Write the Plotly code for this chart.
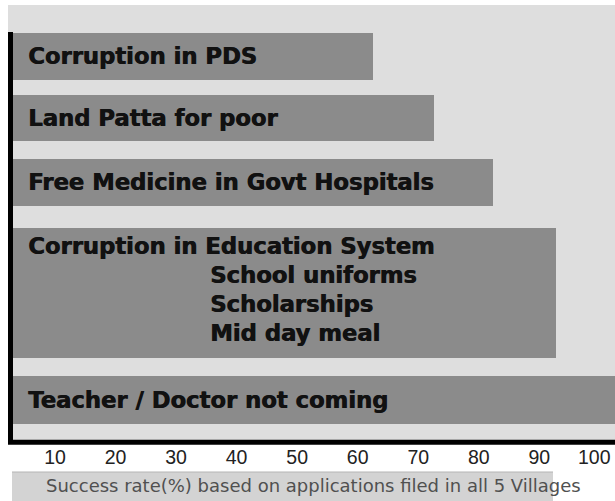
import plotly.graph_objects as go

# ---- data ----
categories = [
    "Corruption in PDS",
    "Land Patta for poor",
    "Free Medicine in Govt Hospitals",
    "Corruption in Education System",
    "Teacher / Doctor not coming",
]
sub_items = ["School uniforms", "Scholarships", "Mid day meal"]
success_rate = [62.5, 72.6, 82.3, 92.7, 105]
tick_vals = [10, 20, 30, 40, 50, 60, 70, 80, 90, 100]
x_title = "Success rate(%) based on applications filed in all 5 Villages"

# ---- layout (row slots, thickness) ----
row_pos = [0, 0.98, 2.0, 3.75, 5.45]
row_thick = [0.75, 0.73, 0.75, 2.06, 0.76]

W, H = 615, 501
BG = "#dedede"
BAR = "#8b8b8b"
PW, PH = 603, 435  # plot area size in px
XR = [2.9, 102.5]

tickfont = dict(family="Liberation Sans", size=19.5, color="#222")
# ticks that fit inside the page go on the axis; the edge one is drawn as text anchored right
axis_ticks = [v for v in tick_vals if v < 100]
edge_ticks = [v for v in tick_vals if v >= 100]

fig = go.Figure()
fig.add_trace(go.Bar(
    x=success_rate, y=row_pos, width=row_thick, orientation="h",
    marker=dict(color=BAR, line=dict(width=0)), hoverinfo="skip",
))

bold = dict(family="DejaVu Sans", size=22.7, color="#111", shadow="0.7px 0 0 #111")
ann = []
for c, p in zip(categories, row_pos):
    ypos = p if c != "Corruption in Education System" else p - 0.75
    ann.append(dict(x=14 / PW, xref="paper", y=ypos, yref="y", text="<b>" + c + "</b>",
                    showarrow=False, xanchor="left", yanchor="middle", font=bold))
edu = row_pos[3]
for i, s in enumerate(sub_items):
    ann.append(dict(x=196 / PW, xref="paper", y=edu - 0.28 + i * 0.46, yref="y",
                    text="<b>" + s + "</b>", showarrow=False, xanchor="left",
                    yanchor="middle", font=bold))
for v in edge_ticks:
    ann.append(dict(x=v, xref="x", xshift=13, y=-(457 - 440) / PH, yref="paper",
                    text=str(v), showarrow=False, xanchor="right", yanchor="middle",
                    font=tickfont))
ann.append(dict(x=(313 - 12) / PW, xref="paper", y=-(486 - 440) / PH, yref="paper",
                text=x_title, showarrow=False, xanchor="center", yanchor="middle",
                font=dict(family="DejaVu Sans", size=18, color="#505050")))

shapes = [
    # gray backdrop
    dict(type="rect", xref="paper", yref="paper", x0=-4 / PW, x1=1.01, y0=0, y1=1,
         fillcolor=BG, line=dict(width=0), layer="below"),
    # bottom band
    dict(type="rect", xref="paper", yref="paper", x0=0, x1=541 / PW,
         y0=-(501 - 440) / PH - 0.02, y1=-(472 - 440) / PH,
         fillcolor="#d3d3d3", line=dict(width=0), layer="below"),
    dict(type="line", xref="paper", yref="paper", x0=0, x1=541 / PW,
         y0=-(472 - 440) / PH, y1=-(472 - 440) / PH,
         line=dict(color="#b5b5b5", width=1)),
    # left axis line
    dict(type="line", xref="paper", yref="paper", x0=-1.5 / PW, x1=-1.5 / PW,
         y0=-0.005, y1=(440 - 32) / PH, line=dict(color="#000", width=5)),
    # bottom axis line
    dict(type="line", xref="paper", yref="paper", x0=-4 / PW, x1=1.01,
         y0=-0.005, y1=-0.005, line=dict(color="#000", width=5)),
]

fig.update_layout(
    width=W, height=H,
    margin=dict(l=12, r=0, t=5, b=61),
    paper_bgcolor="white", plot_bgcolor=BG,
    showlegend=False, bargap=0,
    xaxis=dict(range=XR, tickvals=axis_ticks, ticktext=[str(v) for v in axis_ticks],
               showgrid=False, zeroline=False, showline=False, ticks="",
               tickfont=tickfont, ticklabelstandoff=3),
    yaxis=dict(range=[6.087, -0.817], showticklabels=False, showgrid=False,
               zeroline=False, showline=False, ticks=""),
    annotations=ann, shapes=shapes,
)
fig.write_html("out.html", config={"displayModeBar": False},
               post_script="document.body.style.margin='0';document.body.style.overflow='hidden';")
